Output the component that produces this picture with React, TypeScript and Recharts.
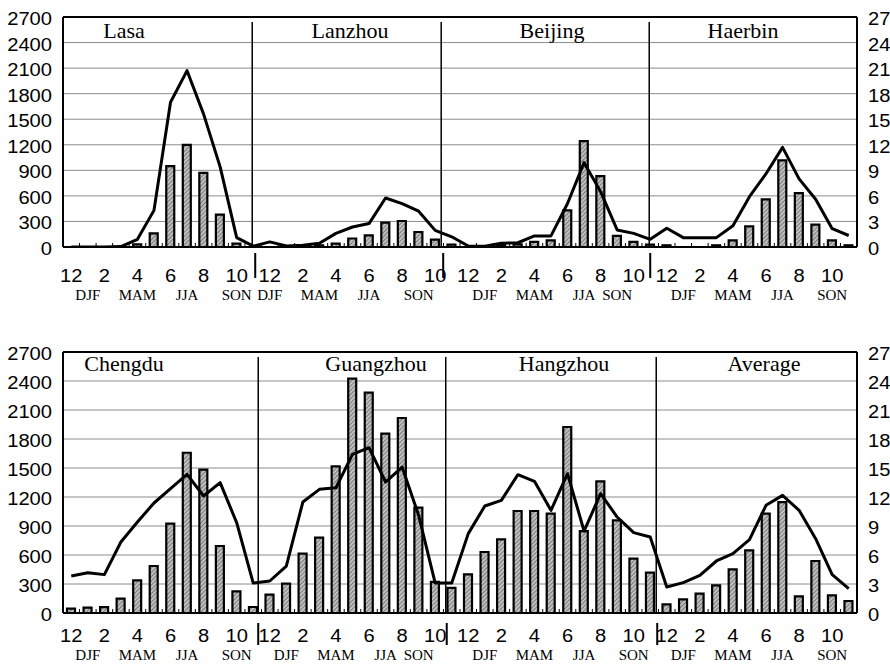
import React from 'react';
import { ComposedChart, Bar, Line, XAxis, YAxis, CartesianGrid, ReferenceLine } from 'recharts';

// ---------- categories & tick labels ----------
const MONTHS = ['12', '1', '2', '3', '4', '5', '6', '7', '8', '9', '10', '11'];
const MONTH_TICK_LABELS = ['12', '', '2', '', '4', '', '6', '', '8', '', '10', ''];

const TOP_CITIES = ['Lasa', 'Lanzhou', 'Beijing', 'Haerbin'];
const BOTTOM_CITIES = ['Chengdu', 'Guangzhou', 'Hangzhou', 'Average'];

const lasaSeasons = ['', 'DJF', '', '', 'MAM', '', '', 'JJA', '', '', 'SON', ''];
const lanzhouSeasons = ['DJF', '', '', 'MAM', '', '', 'JJA', '', '', 'SON', '', ''];
const beijingSeasons = ['', 'DJF', '', '', 'MAM', '', '', 'JJA', '', 'SON', '', ''];
const haerbinSeasons = ['', 'DJF', '', '', 'MAM', '', '', 'JJA', '', '', 'SON', ''];
const chengduSeasons = ['', 'DJF', '', '', 'MAM', '', '', 'JJA', '', '', 'SON', ''];
const guangzhouSeasons = ['', 'DJF', '', '', 'MAM', '', '', 'JJA', '', 'SON', '', ''];
const hangzhouSeasons = ['', 'DJF', '', '', 'MAM', '', '', 'JJA', '', '', 'SON', ''];
const averageSeasons = ['', 'DJF', '', '', 'MAM', '', '', 'JJA', '', '', 'SON', ''];

const LEFT_TICKS = [0, 300, 600, 900, 1200, 1500, 1800, 2100, 2400, 2700];
const RIGHT_TICKS = [0, 3, 6, 9, 12, 15, 18, 21, 24, 27];

// ---------- series values (bars: left axis, line: right axis) ----------
const lasaBars = [0, 0, 0, 0, 30, 160, 950, 1200, 870, 380, 40, 0];
const lasaLine = [0, 0, 0, 0.05, 0.9, 4.3, 17.0, 20.7, 15.6, 9.4, 1.1, 0.1];
const lanzhouBars = [0, 0, 0, 20, 40, 100, 137, 285, 305, 176, 86, 27];
const lanzhouLine = [0.6, 0.12, 0.2, 0.45, 1.6, 2.35, 2.75, 5.75, 5.1, 4.2, 1.95, 1.2];
const beijingBars = [0, 0, 25, 30, 60, 78, 430, 1243, 833, 130, 60, 27];
const beijingLine = [0.12, 0.08, 0.45, 0.5, 1.3, 1.3, 5.1, 9.9, 6.5, 2.0, 1.6, 0.9];
const haerbinBars = [20, 0, 0, 20, 78, 242, 560, 1017, 633, 262, 78, 20];
const haerbinLine = [2.2, 1.1, 1.1, 1.1, 2.5, 5.9, 8.6, 11.7, 8.0, 5.6, 2.15, 1.35];

const chengduBars = [45, 55, 60, 148, 338, 486, 924, 1658, 1483, 693, 224, 62];
const chengduLine = [3.83, 4.17, 3.97, 7.34, 9.41, 11.38, 12.86, 14.34, 12.1, 13.48, 9.34, 3.1];
const guangzhouBars = [190, 303, 614, 779, 1517, 2424, 2279, 1855, 2017, 1090, 321, 259];
const guangzhouLine = [3.31, 4.86, 11.48, 12.79, 12.96, 16.41, 17.1, 13.55, 15.1, 10.1, 3.1, 3.1];
const hangzhouBars = [400, 631, 762, 1055, 1055, 1028, 1924, 848, 1362, 958, 562, 417];
const hangzhouLine = [8.21, 11.07, 11.65, 14.31, 13.62, 10.62, 14.41, 8.48, 12.34, 9.93, 8.31, 7.86];
const averageBars = [90, 141, 200, 286, 452, 648, 1028, 1148, 172, 538, 183, 124];
const averageLine = [2.69, 3.14, 3.9, 5.38, 6.14, 7.59, 11.14, 12.17, 10.62, 7.69, 3.97, 2.52];

// ---------- build tables ----------
const buildData = (cities: string[], bars: number[][], lines: number[][]) => {
  const rows: any[] = [];
  cities.forEach((c, ci) => {
    MONTHS.forEach((m, mi) => {
      rows.push({ key: `${c}-${m}`, bar: bars[ci][mi], line: lines[ci][mi] });
    });
  });
  return rows;
};

const topData = buildData(TOP_CITIES, [lasaBars, lanzhouBars, beijingBars, haerbinBars], [lasaLine, lanzhouLine, beijingLine, haerbinLine]);
const bottomData = buildData(BOTTOM_CITIES, [chengduBars, guangzhouBars, hangzhouBars, averageBars], [chengduLine, guangzhouLine, hangzhouLine, averageLine]);
const topSeasons = [...lasaSeasons, ...lanzhouSeasons, ...beijingSeasons, ...haerbinSeasons];
const bottomSeasons = [...chengduSeasons, ...guangzhouSeasons, ...hangzhouSeasons, ...averageSeasons];

// ---------- styling helpers ----------
const SANS = "'Liberation Sans', Arial, Helvetica, sans-serif";
const SERIF = "'Liberation Serif', 'Times New Roman', serif";
const DIGIT_W = 11.2;

const LeftTick = (props: any) => {
  const { x, y, payload } = props;
  const s = String(payload.value);
  return (
    <text x={x} y={y} dy={8} textAnchor="end" fontFamily={SANS} fontSize={18} fill="#000"
      textLength={s.length * DIGIT_W} lengthAdjust="spacingAndGlyphs">{s}</text>
  );
};
const RightTick = (props: any) => {
  const { x, y, payload } = props;
  const s = String(payload.value);
  return (
    <text x={x} y={y} dy={8} textAnchor="start" fontFamily={SANS} fontSize={18} fill="#000"
      textLength={s.length * DIGIT_W} lengthAdjust="spacingAndGlyphs">{s}</text>
  );
};

const makeXTick = (seasons: string[], numDy: number, seasonDy: number) => (props: any) => {
  const { x, y, payload } = props;
  const i: number = typeof props.index === 'number' ? props.index : payload.index;
  const half = typeof payload.offset === 'number' && payload.offset > 0 ? payload.offset : 794 / 96;
  const m = MONTH_TICK_LABELS[i % 12];
  const s = seasons[i];
  return (
    <g>
      <line x1={x - half} x2={x - half} y1={y - 4} y2={y} stroke="#000" strokeWidth={1} />
      {m ? (
        <text x={x} y={y + numDy} textAnchor="middle" fontFamily={SANS} fontSize={18} fill="#000"
          textLength={m.length * DIGIT_W} lengthAdjust="spacingAndGlyphs">{m}</text>
      ) : null}
      {s ? (
        <text x={x} y={y + seasonDy} textAnchor="middle" fontFamily={SERIF} fontSize={15} fill="#000">{s}</text>
      ) : null}
    </g>
  );
};

const makeSep = (dxPlot: number, dxTick: number, topInset: number, tickTop: number, tickBottom: number) => (p: any) => {
  const x = p.x1;
  const yTop = Math.min(p.y1, p.y2);
  const yBot = Math.max(p.y1, p.y2);
  return (
    <g>
      <line x1={x + dxPlot} x2={x + dxPlot} y1={yTop + topInset} y2={yBot} stroke="#000" strokeWidth={1.5} />
      <line x1={x + dxTick} x2={x + dxTick} y1={yBot + tickTop} y2={yBot + tickBottom} stroke="#000" strokeWidth={2} />
    </g>
  );
};

const Hatch = ({ id }: { id: string }) => (
  <defs>
    <pattern id={id} patternUnits="userSpaceOnUse" width="3" height="3" patternTransform="rotate(45)">
      <rect x="0" y="0" width="3" height="3" fill="#c0c0c0" />
      <line x1="0" y1="0" x2="0" y2="3" stroke="#555" strokeWidth="1.3" />
    </pattern>
  </defs>
);

type PanelProps = {
  data: any[];
  seasons: string[];
  cities: string[];
  cityX: number[];
  cityBaseline: number;
  height: number;
  marginTop: number;
  xAxisHeight: number;
  numDy: number;
  seasonDy: number;
  seps: { key: string; dxPlot: number; dxTick: number }[];
  sepTick: [number, number];
  patternId: string;
};

const Panel = (p: PanelProps) => (
  <ComposedChart width={890} height={p.height} data={p.data}
    margin={{ top: p.marginTop, right: 0, bottom: 0, left: 0 }} barSize={8}>
    <Hatch id={p.patternId} />
    <CartesianGrid vertical={false} stroke="#8c8c8c" strokeWidth={1} yAxisId="left" />
    <XAxis dataKey="key" type="category" interval={0} height={p.xAxisHeight} tickSize={0} tickMargin={0}
      axisLine={{ stroke: '#000', strokeWidth: 2 }} tickLine={false} tick={makeXTick(p.seasons, p.numDy, p.seasonDy)} />
    <YAxis yAxisId="left" orientation="left" width={63} domain={[0, 2700]} ticks={LEFT_TICKS} interval={0}
      allowDataOverflow tickSize={0} tickMargin={11} tickLine={false}
      axisLine={{ stroke: '#000', strokeWidth: 2 }} tick={LeftTick} />
    <YAxis yAxisId="right" orientation="right" width={33} domain={[0, 27]} ticks={RIGHT_TICKS} interval={0}
      allowDataOverflow tickSize={0} tickMargin={11} tickLine={false}
      axisLine={{ stroke: '#000', strokeWidth: 2 }} tick={RightTick} />
    <ReferenceLine yAxisId="left" y={2700} stroke="#000" strokeWidth={2} />
    {p.seps.map((s) => (
      <ReferenceLine key={s.key} yAxisId="left" x={s.key} stroke="#000"
        shape={makeSep(s.dxPlot, s.dxTick, 5, p.sepTick[0], p.sepTick[1])} />
    ))}
    <Bar yAxisId="left" dataKey="bar" fill={`url(#${p.patternId})`} stroke="#000" strokeWidth={2.2} isAnimationActive={false} />
    <Line yAxisId="right" dataKey="line" type="linear" stroke="#000" strokeWidth={3} dot={false}
      strokeLinejoin="round" isAnimationActive={false} />
    {p.cities.map((c, i) => (
      <text key={c} x={p.cityX[i]} y={p.cityBaseline} textAnchor="middle" fontFamily={SERIF} fontSize={22} fill="#000">{c}</text>
    ))}
  </ComposedChart>
);

export default function App() {
  return (
    <div style={{ position: 'absolute', left: 0, top: 0, width: 890, height: 665, background: '#fff' }}>
      <div style={{ position: 'absolute', left: 0, top: 0 }}>
        <Panel data={topData} seasons={topSeasons} cities={TOP_CITIES} cityX={[124, 350, 552, 743]} cityBaseline={38}
          height={320} marginTop={17} xAxisHeight={73} numDy={35} seasonDy={53}
          seps={[
            { key: 'Lasa-11', dxPlot: -1, dxTick: 2 },
            { key: 'Lanzhou-10', dxPlot: 6, dxTick: 8 },
            { key: 'Beijing-11', dxPlot: -1, dxTick: 0 },
          ]}
          sepTick={[6, 31]} patternId="hatchTop" />
      </div>
      <div style={{ position: 'absolute', left: 0, top: 320 }}>
        <Panel data={bottomData} seasons={bottomSeasons} cities={BOTTOM_CITIES} cityX={[124, 376, 564, 764]} cityBaseline={51}
          height={345} marginTop={32} xAxisHeight={52} numDy={29} seasonDy={47}
          seps={[
            { key: 'Chengdu-11', dxPlot: 5, dxTick: 5 },
            { key: 'Guangzhou-11', dxPlot: -6, dxTick: -5 },
            { key: 'Hangzhou-11', dxPlot: 6, dxTick: 7 },
          ]}
          sepTick={[10, 32]} patternId="hatchBottom" />
      </div>
    </div>
  );
}
